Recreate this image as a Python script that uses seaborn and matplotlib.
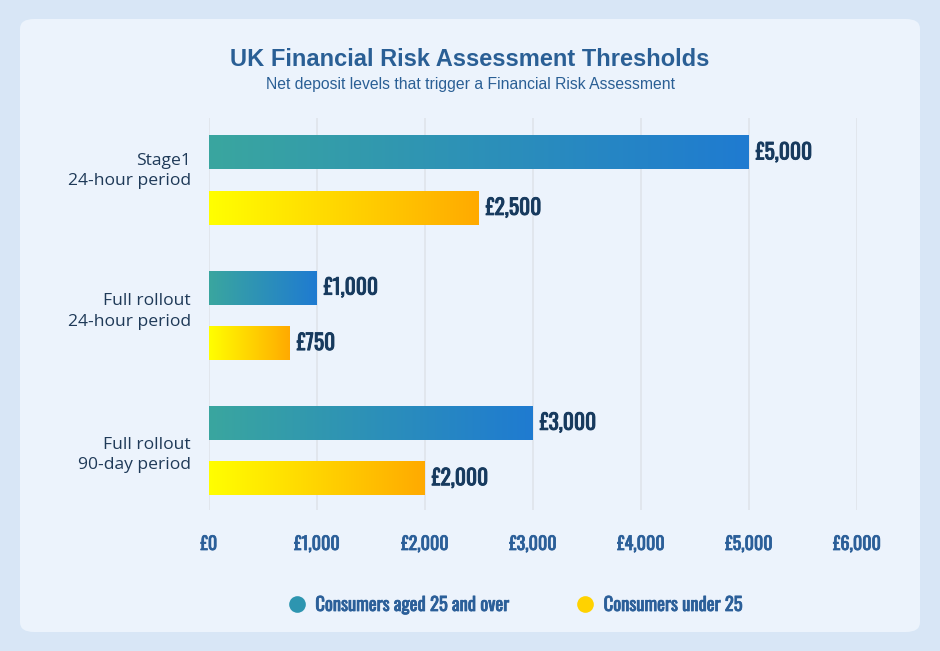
import matplotlib
matplotlib.use("Agg")
import matplotlib.pyplot as plt
import matplotlib.patheffects as pe
import matplotlib.transforms as mtransforms
import seaborn as sns
import numpy as np
import pandas as pd
from matplotlib.colors import LinearSegmentedColormap
from matplotlib.patches import FancyBboxPatch
from matplotlib.lines import Line2D
from matplotlib.ticker import FuncFormatter

# datos del gráfico
periodos = ["Stage1\n24-hour period", "Full rollout\n24-hour period", "Full rollout\n90-day period"]
grupos = ["Consumers aged 25 and over", "Consumers under 25"]
valores_25_mas = [5000, 1000, 3000]
valores_menos_25 = [2500, 750, 2000]
ticks_x = [0, 1000, 2000, 3000, 4000, 5000, 6000]

df = pd.DataFrame({
    "periodo": periodos * 2,
    "grupo": [grupos[0]] * 3 + [grupos[1]] * 3,
    "valor": valores_25_mas + valores_menos_25,
})

sns.set_style("white")
COND = ["Oswald", "Roboto Condensed", "DejaVu Sans"]
plt.rcParams["font.family"] = ["Open Sans", "DejaVu Sans"]

cmaps = [
    LinearSegmentedColormap.from_list("azul", ["#3aa69f", "#1f7bd1"]),
    LinearSegmentedColormap.from_list("amarillo", ["#ffff00", "#ffaa00"]),
]

def grueso(color, lw=0.6):
    # engrosar el texto condensado (Oswald sólo trae peso normal)
    return [pe.withStroke(linewidth=lw, foreground=color)]

fig = plt.figure(figsize=(9.4, 6.51), dpi=100, facecolor="#d8e6f6")

# tarjeta de fondo
card = FancyBboxPatch((20 / 940, 19 / 651), 900 / 940, 613 / 651,
                      boxstyle="round,pad=0,rounding_size=0.015",
                      transform=fig.transFigure, facecolor="#ecf3fc",
                      edgecolor="none", zorder=-5)
fig.patches.append(card)

ax = fig.add_axes([209 / 940, 1 - 510 / 651, 648 / 940, 392 / 651])
ax.set_zorder(2)
ax.set_facecolor("none")

sns.barplot(data=df, y="periodo", x="valor", hue="grupo", orient="h",
            width=0.82, gap=0.39, ax=ax, legend=False, palette=["#2a8fb8", "#ffd000"])

for cont, cmap in zip(ax.containers, cmaps):
    for bar in cont:
        x0, y0 = bar.get_x(), bar.get_y()
        w, h = bar.get_width(), bar.get_height()
        bar.set_visible(False)
        grad = np.linspace(0, 1, 256).reshape(1, -1)
        ax.imshow(grad, cmap=cmap, aspect="auto", extent=(x0, x0 + w, y0 + h, y0),
                  zorder=3, interpolation="bicubic")
        ax.annotate(f"£{w:,.0f}", (x0 + w, y0 + h / 2), xytext=(5, 0),
                    textcoords="offset points", va="center", ha="left",
                    fontsize=15.5, color="#173a5e", family=COND,
                    path_effects=grueso("#173a5e", 0.65))

ax.set_xlim(0, 6000)
ax.set_ylim(2.44, -0.46)
ax.set_xticks(ticks_x)
ax.xaxis.set_major_formatter(FuncFormatter(lambda v, p: f"£{v:,.0f}"))
ax.grid(axis="x", color="#dfe4ea", linewidth=1.2, zorder=0)
ax.set_axisbelow(True)
for s in ax.spines.values():
    s.set_visible(False)
ax.tick_params(axis="x", length=0, pad=18, labelsize=13, labelcolor="#2b5f99")
ax.tick_params(axis="y", length=0, pad=13, labelsize=12.6, labelcolor="#1f3a58")
for lbl in ax.get_xticklabels():
    lbl.set_family(COND)
    lbl.set_path_effects(grueso("#2b5f99", 0.55))
desplaz = [13, 8, 0]  # las etiquetas del original no quedan centradas en el grupo
for lbl, d in zip(ax.get_yticklabels(), desplaz):
    lbl.set_horizontalalignment("right")
    lbl.set_multialignment("right")
    lbl.set_linespacing(1.35)
    lbl.set_transform(lbl.get_transform() + mtransforms.ScaledTranslation(0, d / 100, fig.dpi_scale_trans))
ax.set_xlabel("")
ax.set_ylabel("")

fig.text(0.5, 1 - 60 / 651, "UK Financial Risk Assessment Thresholds", ha="center", va="center",
         fontsize=17, fontweight="bold", color="#2a5f95", family=["Liberation Sans", "DejaVu Sans"])
fig.text(0.5, 1 - 85 / 651, "Net deposit levels that trigger a Financial Risk Assessment", ha="center",
         va="center", fontsize=11.3, color="#2a5f95", family=["Liberation Sans", "DejaVu Sans"])

handles = [
    Line2D([], [], marker="o", linestyle="none", markersize=12, markerfacecolor="#2d95b0",
           markeredgecolor="none"),
    Line2D([], [], marker="o", linestyle="none", markersize=12, markerfacecolor="#ffd200",
           markeredgecolor="none"),
]
leg = fig.legend(handles, grupos, loc="center", bbox_to_anchor=(0.5427, 1 - 605 / 651), ncol=2,
                 frameon=False, handletextpad=0.0, columnspacing=3.1,
                 prop={"family": COND, "size": 13.4})
for t in leg.get_texts():
    t.set_color("#2b5f99")
    t.set_path_effects(grueso("#2b5f99", 0.55))

fig.savefig("out.png", dpi=100, facecolor=fig.get_facecolor())
plt.close(fig)
